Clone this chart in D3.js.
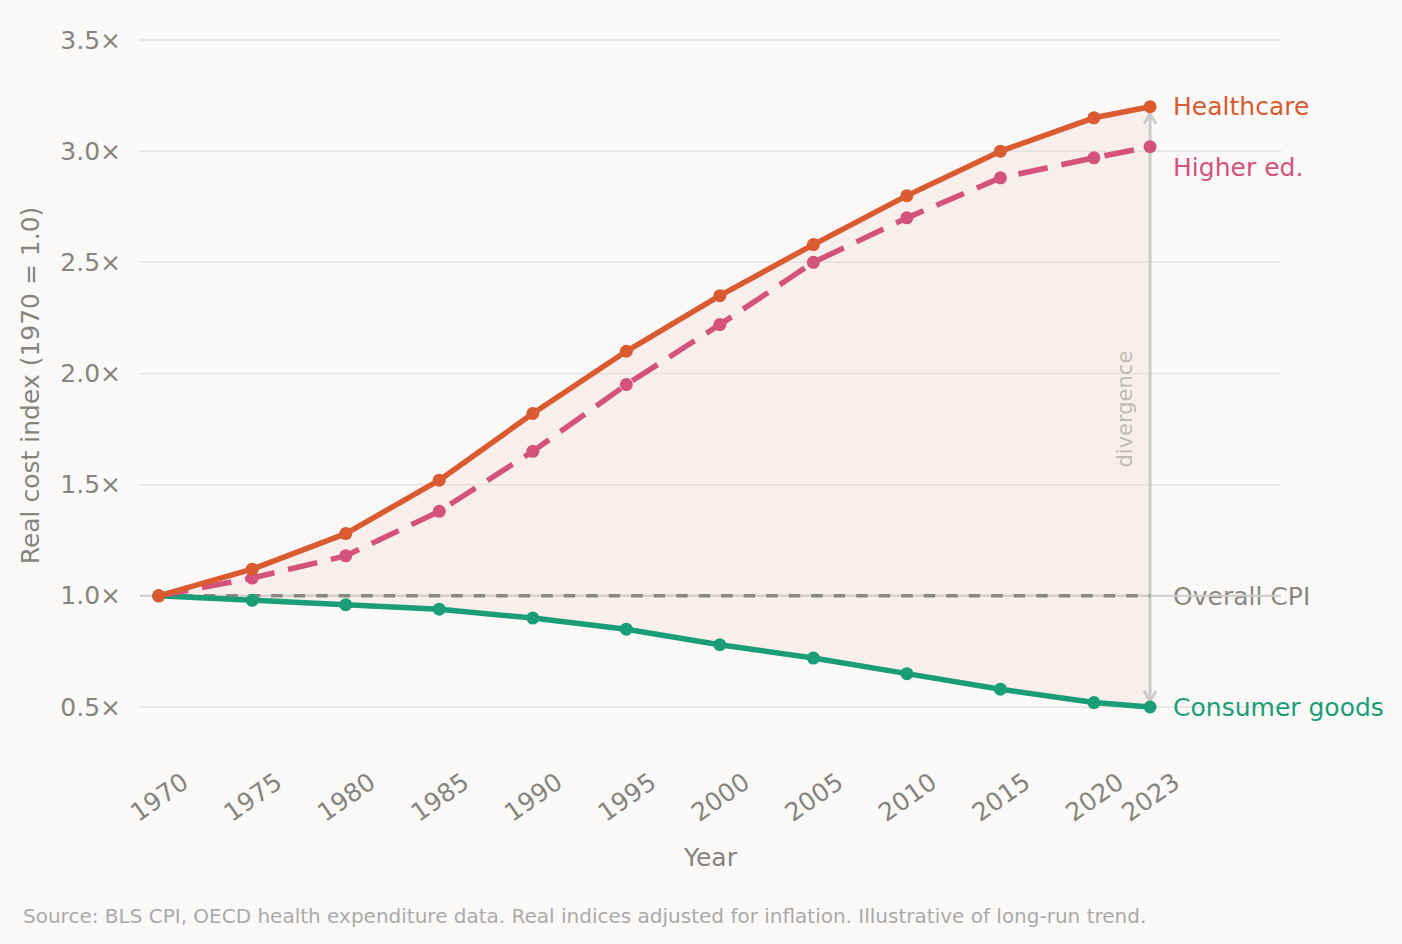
<!DOCTYPE html>
<html>
<head>
<meta charset="utf-8">
<script src="https://cdn.jsdelivr.net/npm/d3@7"></script>
<style>
  html, body { margin: 0; padding: 0; background: #faf9f7; }
  svg { display: block; }
  text { font-family: "DejaVu Sans", sans-serif; }
</style>
</head>
<body>
<svg id="chart" width="1402" height="944"></svg>
<script>
const years = [1970, 1975, 1980, 1985, 1990, 1995, 2000, 2005, 2010, 2015, 2020, 2023];
const healthcare = [1.00, 1.12, 1.28, 1.52, 1.82, 2.10, 2.35, 2.58, 2.80, 3.00, 3.15, 3.20];
const higherEd = [1.00, 1.08, 1.18, 1.38, 1.65, 1.95, 2.22, 2.50, 2.70, 2.88, 2.97, 3.02];
const overallCPI = [1.00, 1.00, 1.00, 1.00, 1.00, 1.00, 1.00, 1.00, 1.00, 1.00, 1.00, 1.00];
const consumerGoods = [1.00, 0.98, 0.96, 0.94, 0.90, 0.85, 0.78, 0.72, 0.65, 0.58, 0.52, 0.50];
const yTicks = [0.5, 1.0, 1.5, 2.0, 2.5, 3.0, 3.5];
const seriesNames = ["Healthcare", "Higher ed.", "Overall CPI", "Consumer goods"];
const sourceNote = "Source: BLS CPI, OECD health expenditure data. Real indices adjusted for inflation. Illustrative of long-run trend.";

const colors = { hc: "#d95b2f", he: "#d4527e", cpi: "#888781", cg: "#1b9e77" };

const svg = d3.select("#chart");
const x = d3.scaleLinear().domain([1969, 2030]).range([140, 1281]);
const y = d3.scaleLinear().domain([0.5, 3.5]).range([707, 40]);

const tickColor = "#858580";

// fill between healthcare and consumer goods
const areaData = years.map((yr, i) => ({ yr, hi: healthcare[i], lo: consumerGoods[i] }));
svg.append("path")
  .datum(areaData)
  .attr("fill", "#f8eeeb")
  .attr("d", d3.area().x(d => x(d.yr)).y0(d => y(d.lo)).y1(d => y(d.hi)));

// gridlines + y ticks
const yAxis = d3.axisLeft(y).tickValues(yTicks).tickSize(0).tickPadding(0)
  .tickFormat(d => d.toFixed(1) + "×");
const gy = svg.append("g").attr("transform", "translate(121,0)").call(yAxis);
gy.select(".domain").remove();
gy.selectAll("text").attr("font-size", 25).attr("fill", tickColor).attr("font-family", "DejaVu Sans");

svg.append("g").selectAll("line").data(yTicks).join("line")
  .attr("x1", 140).attr("x2", 1281)
  .attr("y1", d => y(d)).attr("y2", d => y(d))
  .attr("stroke", "#e4e2de").attr("stroke-width", 1.5);

// series labels
const lastX = x(years[years.length - 1]) + 23;
const labels = [
  { name: seriesNames[0], v: healthcare[healthcare.length - 1], dy: 0, c: colors.hc },
  { name: seriesNames[1], v: higherEd[higherEd.length - 1], dy: 21, c: colors.he },
  { name: seriesNames[2], v: overallCPI[overallCPI.length - 1], dy: 0, c: colors.cpi },
  { name: seriesNames[3], v: consumerGoods[consumerGoods.length - 1], dy: 0, c: colors.cg }
];
svg.append("g").selectAll("text").data(labels).join("text")
  .attr("x", lastX)
  .attr("y", d => y(d.v) + d.dy)
  .attr("dy", "0.35em")
  .attr("font-size", 25)
  .attr("fill", d => d.c)
  .text(d => d.name);

// baseline reference at 1.0 (drawn over labels)
svg.append("line")
  .attr("x1", 140).attr("x2", 1281)
  .attr("y1", y(1.0)).attr("y2", y(1.0))
  .attr("stroke", "#cdcccb").attr("stroke-width", 2);

// x ticks
const xAxis = d3.axisBottom(x).tickValues(years).tickSize(0).tickFormat(d3.format("d"));
const gx = svg.append("g").attr("transform", "translate(0,797)").call(xAxis);
gx.select(".domain").remove();
gx.selectAll("text")
  .attr("font-size", 25).attr("fill", tickColor).attr("font-family", "DejaVu Sans")
  .attr("y", 0).attr("dy", "0.35em")
  .attr("text-anchor", "middle")
  .attr("transform", "rotate(-35)");

// divergence arrow
const ax = x(years[years.length - 1]);
const yTop = y(healthcare[healthcare.length - 1]) + 7;
const yBot = y(consumerGoods[consumerGoods.length - 1]) - 6;
const arrow = svg.append("g").attr("stroke", "#cccccc").attr("stroke-width", 3).attr("fill", "none");
arrow.append("line").attr("x1", ax).attr("x2", ax).attr("y1", yTop).attr("y2", yBot);
arrow.append("path").attr("d", `M${ax - 6},${yTop + 10} L${ax},${yTop} L${ax + 6},${yTop + 10}`);
arrow.append("path").attr("d", `M${ax - 6},${yBot - 10} L${ax},${yBot} L${ax + 6},${yBot - 10}`);
svg.append("text")
  .attr("transform", `translate(${ax - 25},${(y(2.0) + y(1.5)) / 2 - 20}) rotate(-90)`)
  .attr("text-anchor", "middle").attr("dy", "0.35em")
  .attr("font-size", 21).attr("fill", "#bdbcb9")
  .text("divergence");

// lines
const line = d3.line().x(d => x(d[0])).y(d => y(d[1]));
function drawSeries(vals, color, width, dash, marker) {
  const pts = years.map((yr, i) => [yr, vals[i]]);
  svg.append("path").datum(pts)
    .attr("fill", "none").attr("stroke", color).attr("stroke-width", width)
    .attr("stroke-dasharray", dash || null)
    .attr("stroke-linejoin", "round")
    .attr("d", line);
  if (marker) {
    svg.append("g").selectAll("circle").data(pts).join("circle")
      .attr("cx", d => x(d[0])).attr("cy", d => y(d[1])).attr("r", 6.5)
      .attr("fill", color);
  }
}
drawSeries(overallCPI, colors.cpi, 3.5, "11.5,11", false);
drawSeries(consumerGoods, colors.cg, 5.5, null, true);
drawSeries(higherEd, colors.he, 5.5, "30,14", true);
drawSeries(healthcare, colors.hc, 5.5, null, true);

// axis titles
svg.append("text")
  .attr("x", (x.range()[0] + x.range()[1]) / 2).attr("y", 857).attr("dy", "0.35em")
  .attr("text-anchor", "middle").attr("font-size", 25).attr("fill", tickColor)
  .text("Year");
svg.append("text")
  .attr("transform", `translate(30,${(y(3.5) + y(0.5)) / 2 + 12}) rotate(-90)`)
  .attr("text-anchor", "middle").attr("dy", "0.35em")
  .attr("font-size", 25).attr("fill", tickColor)
  .text("Real cost index  (1970 = 1.0)");

// source note
svg.append("text")
  .attr("x", 23).attr("y", 916).attr("dy", "0.35em")
  .attr("font-size", 20).attr("fill", "#aaaaaa")
  .text(sourceNote);
</script>
</body>
</html>
